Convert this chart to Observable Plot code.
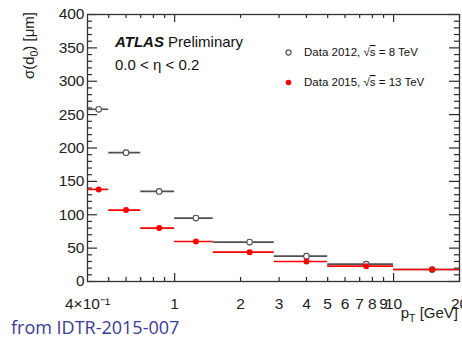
<!DOCTYPE html>
<html><head><meta charset="utf-8">
<script src="https://cdn.jsdelivr.net/npm/d3@7"></script>
<script src="https://cdn.jsdelivr.net/npm/@observablehq/plot@0.6"></script>
<style>
body{margin:0;overflow:hidden;background:#fff;}
#wrap{position:relative;width:462px;height:341px;overflow:hidden;}
#cap{position:absolute;left:11px;top:318px;font-family:"Open Sans";font-size:18px;line-height:18px;color:#3b3b95;white-space:nowrap;}
</style></head><body><div id="wrap"><div id="cap">from IDTR-2015-007</div></div>
<script>
// bins in pT [GeV]
const binLo = [0.4, 0.5, 0.7, 1.0, 1.5, 2.85, 5, 10];
const binHi = [0.5, 0.7, 1.0, 1.5, 2.85, 5, 10, 20];
const ptCenter = [0.45, 0.6, 0.85, 1.25, 2.2, 4.0, 7.5, 15];
// sigma(d0) [um]
const sigma2012 = [258, 193, 135, 95, 59, 38, 26, 18];
const sigma2015 = [138, 107, 80, 60, 44, 30, 23, 18];
// axis ticks
const xTickValues = [0.4, 1, 2, 3, 4, 5, 6, 7, 8, 9, 10, 20];
const xTickLabels = ["4×10⁻¹", "1", "2", "3", "4", "5", "6", "7", "8", "9", "10", "20"];
const xMajorTicks = [1, 10];
const xMinorTicks = [0.5, 0.6, 0.7, 0.8, 0.9, 2, 3, 4, 5, 6, 7, 8, 9, 20];
const yTickValues = [0, 50, 100, 150, 200, 250, 300, 350, 400];
const yMinorTicks = d3.range(10, 400, 10).filter(v => v % 50 !== 0);

const W = 462, H = 341, mL = 87, mR = 3, mT = 14, mB = 60;
const plotW = W - mL - mR, plotH = H - mT - mB;

const d2012 = ptCenter.map((x, i) => ({x, lo: binLo[i], hi: binHi[i], y: sigma2012[i]}));
const d2015 = ptCenter.map((x, i) => ({x, lo: binLo[i], hi: binHi[i], y: sigma2015[i]}));
const xTicks = xTickValues.map((v, i) => ({v, label: xTickLabels[i]}));

const gray = "#505050", red = "#ff0000", axc = "#2a2a2a";

const plot = Plot.plot({
  width: W, height: H,
  marginLeft: mL, marginRight: mR, marginTop: mT, marginBottom: mB,
  style: {fontFamily: "Liberation Sans, Arial, sans-serif", background: "white", color: "#222"},
  x: {type: "log", domain: [0.4, 20], axis: null},
  y: {domain: [0, 400]},
  marks: [
    // inward ticks on all four sides
    Plot.ruleX(xMinorTicks, {x: d => d, insetTop: plotH - 4, stroke: axc, strokeWidth: 1.2}),
    Plot.ruleX(xMinorTicks, {x: d => d, insetBottom: plotH - 4, stroke: axc, strokeWidth: 1.2}),
    Plot.ruleX(xMajorTicks, {x: d => d, insetTop: plotH - 8, stroke: axc, strokeWidth: 1.2}),
    Plot.ruleX(xMajorTicks, {x: d => d, insetBottom: plotH - 8, stroke: axc, strokeWidth: 1.2}),
    Plot.ruleY(yMinorTicks, {y: d => d, insetRight: plotW - 5, stroke: axc, strokeWidth: 1.2}),
    Plot.ruleY(yMinorTicks, {y: d => d, insetLeft: plotW - 5, stroke: axc, strokeWidth: 1.2}),
    Plot.ruleY(yTickValues, {y: d => d, insetRight: plotW - 10, stroke: axc, strokeWidth: 1.2}),
    Plot.ruleY(yTickValues, {y: d => d, insetLeft: plotW - 10, stroke: axc, strokeWidth: 1.2}),
    // x tick labels (explicit, so the log scale does not thin them out)
    Plot.text(xTicks, {x: "v", text: "label", frameAnchor: "bottom", lineAnchor: "top", dy: 16, fontSize: 15.5, fill: "#222"}),
    Plot.axisY(yTickValues, {tickSize: 0, tickPadding: 3, label: null, fontSize: 15.5, fill: "#222"}),
    // Data 2012
    Plot.ruleY(d2012, {y: "y", x1: "lo", x2: "hi", stroke: gray, strokeWidth: 1.6}),
    Plot.dot(d2012, {x: "x", y: "y", r: 2.8, stroke: gray, strokeWidth: 1.1, fill: "white"}),
    // Data 2015
    Plot.ruleY(d2015, {y: "y", x1: "lo", x2: "hi", stroke: red, strokeWidth: 1.6}),
    Plot.dot(d2015, {x: "x", y: "y", r: 3, fill: red}),
    // legend markers
    Plot.dot([0], {frameAnchor: "top-left", dx: 288 - mL, dy: 52 - mT, r: 2.6, stroke: gray, strokeWidth: 1.1, fill: "white"}),
    Plot.dot([0], {frameAnchor: "top-left", dx: 288 - mL, dy: 82 - mT, r: 2.8, fill: red}),
    Plot.frame({stroke: "#333", strokeWidth: 1.3})
  ]
});

const svg = d3.select(plot);
const ff = "Liberation Sans, Arial, sans-serif";
// y-axis label
const yl = svg.append("text").attr("transform", "translate(34,12) rotate(-90)")
  .attr("text-anchor", "end").attr("font-family", ff).attr("font-size", 15).attr("fill", "#222");
yl.append("tspan").text("σ(d");
yl.append("tspan").attr("font-size", 10.5).attr("dy", 4).text("0");
yl.append("tspan").attr("dy", -4).text(") [μm]");
// x-axis label
const xl = svg.append("text").attr("x", 458).attr("y", 318)
  .attr("text-anchor", "end").attr("font-family", ff).attr("font-size", 15).attr("fill", "#222");
xl.append("tspan").text("p");
xl.append("tspan").attr("font-size", 10.5).attr("dy", 4).text("T");
xl.append("tspan").attr("dy", -4).text(" [GeV]");
// ATLAS label
const at = svg.append("text").attr("x", 115).attr("y", 47).attr("text-anchor", "start").attr("font-family", ff).attr("font-size", 15).attr("fill", "#111");
at.append("tspan").attr("font-weight", "bold").attr("font-style", "italic").text("ATLAS");
at.append("tspan").text(" Preliminary");
svg.append("text").attr("x", 115).attr("y", 70).attr("text-anchor", "start").attr("font-family", ff).attr("font-size", 15).attr("fill", "#111")
  .text("0.0 < η < 0.2");
// legend texts
function legendText(y, pre, post) {
  const t = svg.append("text").attr("x", 304).attr("y", y).attr("text-anchor", "start")
    .attr("font-family", ff).attr("font-size", 11.5).attr("fill", "#111");
  t.append("tspan").text(pre + "√");
  t.append("tspan").style("text-decoration", "overline").text("s");
  t.append("tspan").text(post);
}
legendText(56, "Data 2012, ", " = 8 TeV");
legendText(86, "Data 2015, ", " = 13 TeV");

document.getElementById("wrap").prepend(plot);
</script></body></html>
